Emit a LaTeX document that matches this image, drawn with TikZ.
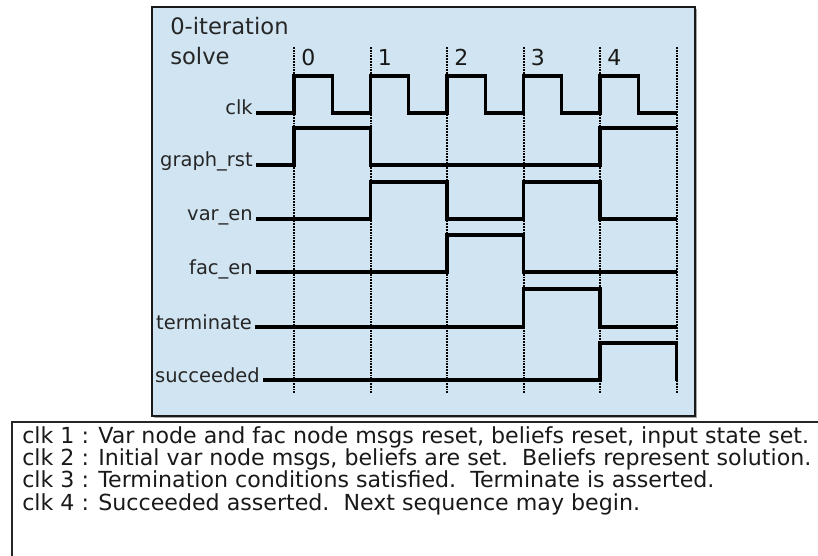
\documentclass[tikz,border=0pt]{standalone}
\usepackage{fontspec}
\setmainfont{DejaVu Sans}
\begin{document}
\begin{tikzpicture}[x=0.75pt,y=-0.75pt,
  sig/.style={line width=2.3pt, black, line join=miter},
  tick/.style={line width=1.5pt, black, dash pattern=on 1.3pt off 0.8pt},
  lbl/.style={anchor=base east, inner sep=0pt, font=\fontsize{14.6}{16}\selectfont, text=black!85},
  num/.style={anchor=base west, inner sep=0pt, font=\fontsize{16.5}{18}\selectfont, text=black!90},
  ttl/.style={anchor=base west, inner sep=0pt, font=\fontsize{17}{19}\selectfont, text=black!85},
  note/.style={anchor=base west, inner sep=0pt, font=\fontsize{16.6}{18}\selectfont, text=black!90}]
\definecolor{panelblue}{RGB}{208,228,242}
\useasboundingbox (0,0) rectangle (818,556);

% timing panel
\fill[black!35] (154,9) rectangle (697,418);
\draw[fill=panelblue, draw=black!90, line width=1.5pt] (152,7) rectangle (695,416);

% title
\node[ttl] (title1) at (170,35) {0-iteration};
\node[ttl] (title2) at (170,65) {solve};

% clock edge guides and cycle numbers
\foreach \k/\n in {0/0,1/1,2/2,3/3,4/4} {
  \draw[tick] ({294+76.5*\k},47) -- ({294+76.5*\k},393);
  \node[num] (c\n) at ({301+76.5*\k},66) {\n};
}
\draw[tick] (676.5,47) -- (676.5,393);

% signal names
\node[lbl] (lclk)  at (253,115) {clk};
\node[lbl] (lrst)  at (253,167) {graph\_rst};
\node[lbl] (lvar)  at (253,221) {var\_en};
\node[lbl] (lfac)  at (253,274) {fac\_en};
\node[lbl] (lterm) at (252,329) {terminate};
\node[lbl] (lsucc) at (260,382) {succeeded};

% waveforms
\draw[sig] (256,113) -- (294,113)
  \foreach \k in {0,...,4} { -- ({294+76.5*\k},76) -- ({332.25+76.5*\k},76)
     -- ({332.25+76.5*\k},113) -- ({370.5+76.5*\k},113) };
\draw[sig] (256,165) -| (294,128) -| (370.5,165) -| (600,128) -- (676.5,128);
\draw[sig] (256,219) -| (370.5,182) -| (447,219) -| (523.5,182) -| (600,219) -- (676.5,219);
\draw[sig] (256,272) -| (447,235) -| (523.5,272) -- (676.5,272);
\draw[sig] (255,327) -| (523.5,289) -| (600,327) -- (676.5,327);
\draw[sig] (263,380) -| (600,343) -| (676.5,381);

% notes box
\draw[black!85, line width=1.5pt] (12,560) -- (12,422) -- (822,422);
\node[note] (n1) at (22,443) {clk 1 : Var node and fac node msgs reset, beliefs reset, input state set.};
\node[note] (n2) at (22,465.5) {clk 2 : Initial var node msgs, beliefs are set.\ \ Beliefs represent solution.};
\node[note] (n3) at (22,487.5) {clk 3 : Termination conditions satisfied.\ \ Terminate is asserted.};
\node[note] (n4) at (22,510) {clk 4 : Succeeded asserted.\ \ Next sequence may begin.};
\end{tikzpicture}
\end{document}
